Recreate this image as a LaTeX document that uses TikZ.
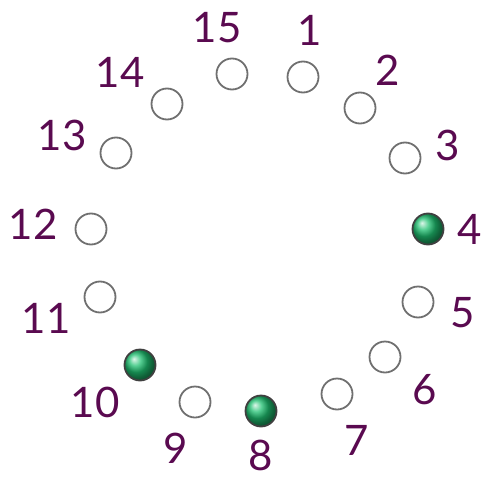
\documentclass[tikz,border=0pt]{standalone}
\usepackage{fontspec}
\setmainfont{Lato}
\definecolor{plum}{HTML}{5A0A50}
\definecolor{rim}{HTML}{707070}
\definecolor{jade}{HTML}{1FC070}
\begin{document}
\begin{tikzpicture}[x=1pt, y=-1pt, every node/.style={font=\fontsize{42}{48}\selectfont, text=plum, inner sep=1pt}]
  \tikzstyle{hole}=[draw=rim, circle, line width=1.8pt, inner sep=0pt, minimum size=31pt, fill=white]
  \tikzstyle{peg}=[hole, draw=black!75, shading=ball, ball color=jade]
  \useasboundingbox (0,0) rectangle (486,481);
  \node[hole] (p1) at (303, 77) {};  \node[hole] (p2) at (360, 108) {};
  \node[hole] (p3) at (405, 158) {}; \node[peg]  (p4) at (428, 229) {};
  \node[hole] (p5) at (418, 302) {}; \node[hole] (p6) at (385, 357) {};
  \node[hole] (p7) at (337, 394) {}; \node[peg]  (p8) at (261, 411) {};
  \node[hole] (p9) at (195, 402) {}; \node[peg] (p10) at (140, 365) {};
  \node[hole] (p11) at (100, 297) {}; \node[hole] (p12) at (91, 229) {};
  \node[hole] (p13) at (116, 153) {}; \node[hole] (p14) at (167, 104) {};
  \node[hole] (p15) at (232, 74) {};
  \node (l1) at (310, 30) {1};   \node (l2) at (388, 70) {2};
  \node (l3) at (448, 145) {3};  \node (l4) at (470, 229) {4};
  \node (l5) at (463, 313) {5};  \node (l6) at (425, 390) {6};
  \node (l7) at (357, 440) {7};  \node (l8) at (261, 455) {8};
  \node (l9) at (176, 448) {9};  \node (l10) at (95, 402) {10};
  \node (l11) at (46, 318) {11}; \node (l12) at (33, 224) {12};
  \node (l13) at (62, 135) {13}; \node (l14) at (120, 72) {14};
  \node (l15) at (217, 28) {15};
\end{tikzpicture}
\end{document}
